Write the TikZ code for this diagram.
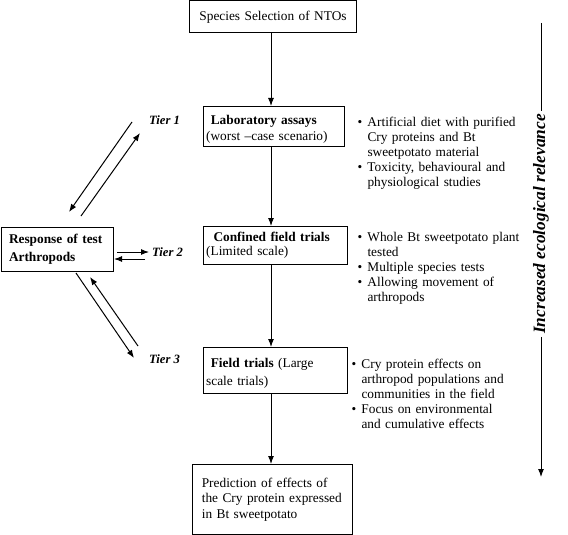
\documentclass[tikz,border=0pt]{standalone}
\usepackage{fontspec}
\setmainfont{Liberation Serif}
\usetikzlibrary{arrows.meta}

\tikzset{every picture/.style={line width=0.75pt}}
\tikzset{
  box/.style={draw, anchor=north west, inner xsep=2pt, inner ysep=0pt, align=left},
  notes/.style={anchor=north west, inner sep=0pt, text width=150pt, font=\fontsize{10}{11.25}\selectfont},
  tier/.style={anchor=west, inner sep=2pt, font=\fontsize{9.5}{11}\selectfont\bfseries\itshape},
  flow/.style={-{Latex[length=6pt,width=4.5pt]}},
}
\newcommand{\bul}[1]{\par\hangindent=7.5pt\hangafter=1\noindent\makebox[7.5pt][l]{\textbullet}#1\par}

\begin{document}
\begin{tikzpicture}[x=0.75pt,y=0.75pt,yscale=-1,xscale=1]
\useasboundingbox (0,0) rectangle (568,535);

%Shape: Rectangle [id:sel]
\node (sel) [box, align=center, text width=119.25pt, inner xsep=3pt, minimum height=24pt] at (189,0.5) {Species Selection of NTOs};
%Shape: Rectangle [id:lab]
\node (lab) [box, text width=101.75pt, minimum height=30pt, font=\fontsize{10}{12}\selectfont] at (203,106) {\rule{0pt}{11.5pt}\hspace*{3.5pt}\textbf{Laboratory assays}\\(worst --case scenario)};
%Shape: Rectangle [id:conf]
\node (conf) [box, text width=104pt, minimum height=28.5pt, font=\fontsize{10}{10.5}\selectfont] at (203,226) {\hspace*{5.5pt}\textbf{Confined field trials}\\(Limited scale)};
%Shape: Rectangle [id:field]
\node (field) [box, text width=104pt, minimum height=34.5pt, font=\fontsize{10}{13.5}\selectfont] at (203,347) {\rule{0pt}{11.5pt}\hspace*{3.5pt}\textbf{Field trials} (Large\\scale trials)};
%Shape: Rectangle [id:pred]
\node (pred) [box, text width=106pt, inner xsep=7pt, minimum height=52.5pt, font=\fontsize{10}{11.6}\selectfont] at (192,464) {Prediction of effects of\\the Cry protein expressed\\in Bt sweetpotato};
%Shape: Rectangle [id:resp]
\node (resp) [box, text width=72pt, inner xsep=6pt, minimum height=33pt, font=\fontsize{10}{13.5}\selectfont\bfseries] at (0.5,227) {Response of test\\Arthropods};

% Text Node
\node (labnotes) [notes] at (357,111) {\bul{Artificial diet with purified\newline Cry proteins and Bt\newline sweetpotato material}\bul{Toxicity, behavioural and\newline physiological studies}};
% Text Node
\node (confnotes) [notes] at (357,226) {\bul{Whole Bt sweetpotato plant\newline tested}\bul{Multiple species tests}\bul{Allowing movement of\newline arthropods}};
% Text Node
\node (fieldnotes) [notes] at (351,353) {\bul{Cry protein effects on\newline arthropod populations and\newline communities in the field}\bul{Focus on environmental\newline and cumulative effects}};

% Text Node
\node (tier1) [tier] at (146,120) {Tier 1};
\node (tier2) [tier] at (149,252) {Tier 2};
\node (tier3) [tier] at (146,359) {Tier 3};

% Text Node
\node (relev) [rotate=90, inner xsep=2pt, inner ysep=0pt, font=\fontsize{13}{15}\selectfont\bfseries\itshape] at (541,224) {Increased ecological relevance};

%Shape: Boxed Line
\coordinate (spine) at (271,0);
\draw [flow] (spine |- sel.south) -- (spine |- lab.north);
\draw [flow] (spine |- lab.south) -- (spine |- conf.north);
\draw [flow] (spine |- conf.south) -- (spine |- field.north);
\draw [flow] (spine |- field.south) -- (spine |- pred.north);

%Shape: Boxed Line
\coordinate (t1a) at (132,122); \coordinate (t1b) at (69,212);
\coordinate (t1c) at (81,216); \coordinate (t1d) at (140,133);
\draw [flow] (t1a) -- (t1b);
\draw [flow] (t1c) -- (t1d);
\coordinate (t2a) at (117,252);
\coordinate (t2c) at (145,259); \coordinate (t2d) at (114,259);
\draw [flow] (t2a) -- (tier2.west);
\draw [flow] (t2c) -- (t2d);
\coordinate (t3a) at (76,273); \coordinate (t3b) at (134,358);
\coordinate (t3c) at (138,346); \coordinate (t3d) at (90,277);
\draw [flow] (t3a) -- (t3b);
\draw [flow] (t3c) -- (t3d);

%Shape: Boxed Line
\coordinate (rtop) at (541,23);
\coordinate (rbot) at (541,477);
\draw (rtop) -- (relev.east);
\draw [flow] (relev.west) -- (rbot);

\end{tikzpicture}
\end{document}
